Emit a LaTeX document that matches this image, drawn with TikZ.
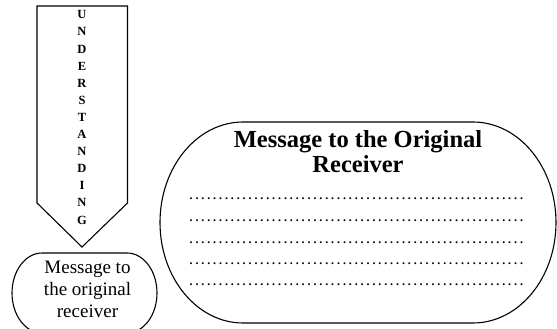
\documentclass[tikz,border=0pt]{standalone}
\usepackage{fontspec}
\setmainfont{Liberation Serif}

\newcommand{\dotrow}{\makebox[337pt][l]{\leaders\hbox to 5.9pt{\hss.\hss}\hfill}}

\begin{document}
\begin{tikzpicture}[x=1pt,y=-1pt]
\useasboundingbox (0,0) rectangle (557,329);

% arrow
\def\xal{37}; % arrow left
\def\xam{82}; % arrow middle (tip)
\def\xar{127.5}; % arrow right
\def\yat{6}; % arrow top
\def\yab{203}; % shaft bottom
\def\yap{247}; % tip

\draw[line width=1.1pt, line join=miter] (\xal, \yat) -- (\xar, \yat) -- (\xar, \yab) -- (\xam, \yap) -- (\xal, \yab) -- cycle;

% base = last line (G)
\node[anchor=base, align=center, inner sep=0pt, font=\fontsize{12.5}{17.1}\selectfont\bfseries] (word) at (\xam, 224) {U\\N\\D\\E\\R\\S\\T\\A\\N\\D\\I\\N\\G};

% small oval
\def\xsl{42};
\def\xsr{127};
\def\yst{253};
\def\ysb{333};

\draw[line width=1.1pt] (\xsl, \yst) -- (\xsr, \yst) arc[start angle=-90, end angle=90, x radius=30, y radius=40] -- (\xsl, \ysb) arc[start angle=90, end angle=270, x radius=30, y radius=40] -- cycle;

\node[anchor=base, align=center, inner sep=0pt, font=\fontsize{19}{22}\selectfont] (small) at (87.5, 317) {Message to\\the original\\receiver};

% big oval
\def\xbl{243};
\def\xbr{473};
\def\ybt{122};
\def\ybb{323};

\draw[line width=1.1pt] (\xbl, \ybt) -- (\xbr, \ybt) arc[start angle=-90, end angle=90, x radius=83, y radius=100.5] -- (\xbl, \ybb) arc[start angle=90, end angle=270, x radius=83, y radius=100.5] -- cycle;

\node[anchor=base, align=center, inner sep=0pt, font=\fontsize{24.5}{25}\selectfont\bfseries] (title) at (358, 172) {Message to the Original\\Receiver};

\foreach \y [count=\i] in {199, 221, 243, 264, 285}
  \node[anchor=base west, inner sep=0pt, font=\fontsize{12}{13}\selectfont\bfseries] (row\i) at (188, \y) {\dotrow};

\end{tikzpicture}
\end{document}
